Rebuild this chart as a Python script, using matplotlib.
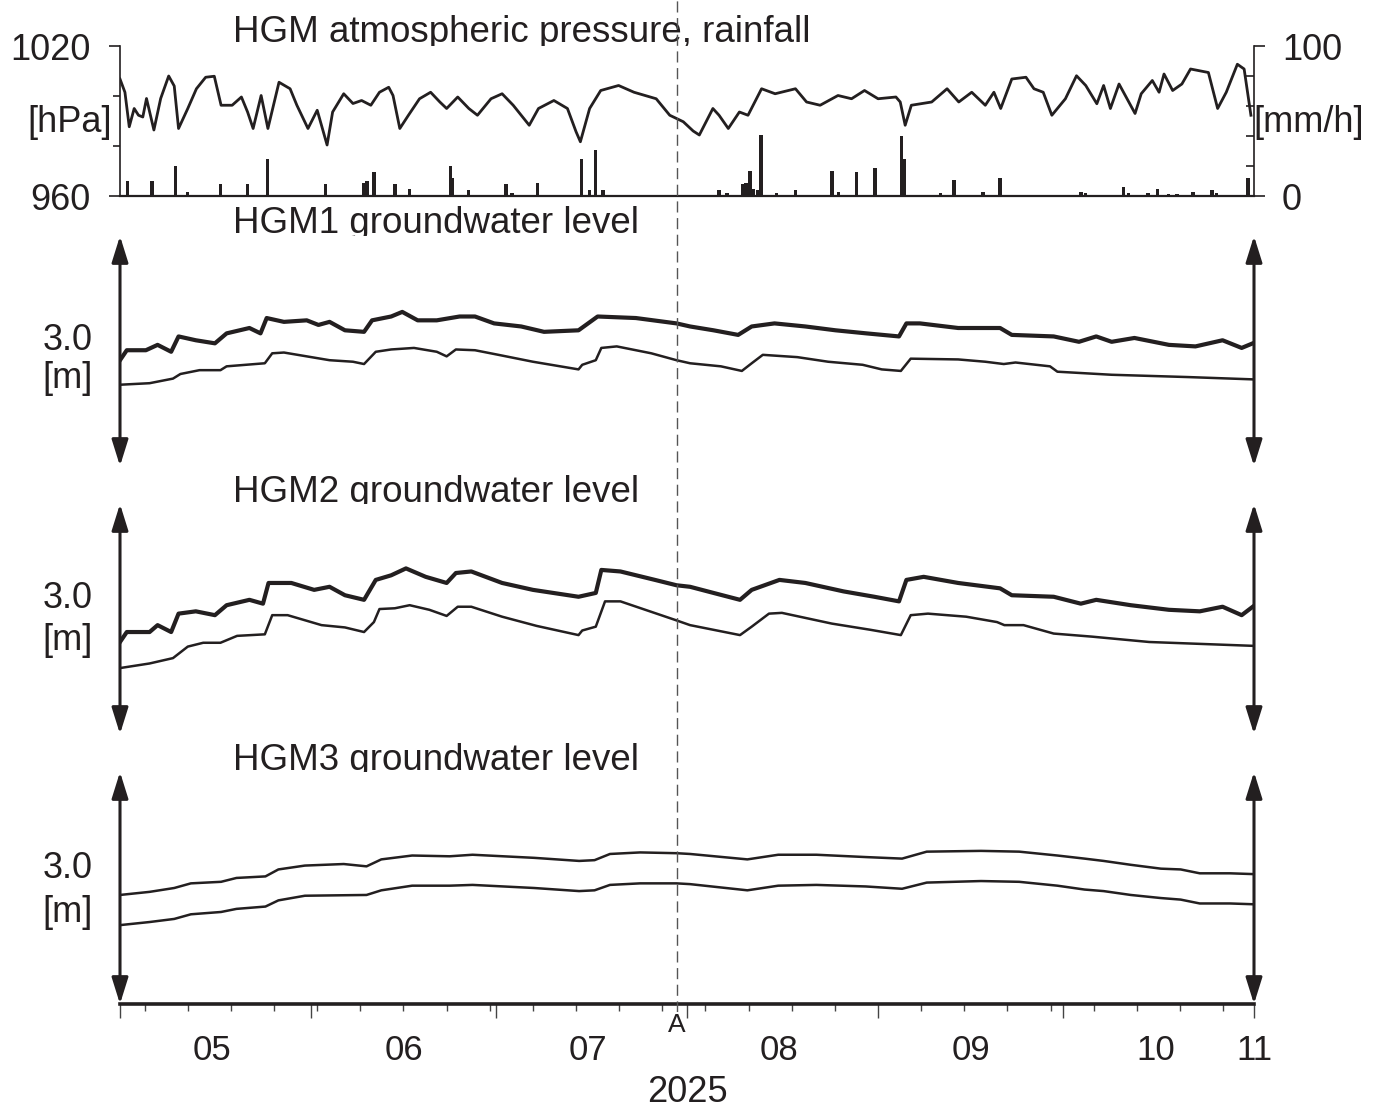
import numpy as np
import matplotlib
matplotlib.use("Agg")
import matplotlib.pyplot as plt
import matplotlib.dates as mdates
from matplotlib.patches import FancyArrowPatch
from matplotlib.ticker import NullFormatter

plt.rcParams['font.family'] = ['Liberation Sans', 'DejaVu Sans']

# all times are days counted from 2025-05-01 00:00
press_days = [0, 0.8, 1.5, 2.3, 3, 3.7, 4.3, 5.5, 6.6, 7.9, 8.8, 9.5, 11, 12.4, 13.9, 15.3, 16.4, 18.2, 19.7, 20.7,
              21.6, 22.9, 24, 25.8, 27.6, 28.7, 30.5, 32, 33.6, 34.5, 36.3, 37.8, 39.2, 40.7, 42.1, 43.6, 44.3, 45.4,
              46.8, 48.6, 50.4, 51.9, 53, 54.8, 56.6, 58, 60.2, 62, 63.8, 66.4, 67.9, 70.4, 72.6, 74, 74.7, 76.2, 78,
              80.9, 83.4, 87, 89.2, 91.4, 93, 94, 96.2, 97.2, 98.7, 100.5, 101.9, 104.1, 106.3, 109.6, 111.4, 113.6,
              116.5, 118.7, 120.8, 123, 125.9, 126.6, 127.4, 128.4, 131.7, 134.2, 136.1, 138.2, 140.4, 141.8, 142.9,
              144.7, 147, 148.3, 149.8, 151.2, 153.4, 155.2, 156.7, 158.5, 159.6, 160.7, 162.1, 164.7, 165.7, 167.5,
              168.6, 169.4, 170.8, 172.3, 173.7, 176.6, 178.1, 179.5, 181.3, 182.4, 183.5]
press_hpa = [1006.8, 1001.5, 987.7, 995, 992.3, 991.6, 999, 986.4, 999, 1008, 1004, 987, 995, 1002.9, 1007.5, 1007.9,
             996.3, 996.3, 999.6, 993.6, 987, 1000.2, 987, 1005.5, 1002.9, 996.3, 987, 994.3, 980.4, 993.6, 1000.9,
             997, 998.2, 996.3, 1001.5, 1003.5, 1000.2, 987, 992.3, 998.9, 1001.5, 997.6, 995, 999.6, 995, 992.3,
             998.9, 1000.9, 996.3, 988.3, 995, 998.2, 995, 985.7, 981.7, 995, 1002.2, 1004.2, 1001.5, 998.9, 992.3,
             989.7, 986, 984.4, 995, 992.3, 987, 993.6, 992.3, 1002.9, 1000.9, 1002.9, 997.6, 996.3, 1000.2, 998.9,
             1002.2, 998.9, 999.6, 997.6, 988.3, 996.3, 997.6, 1002.9, 997.6, 1001.5, 996.3, 1001.5, 995, 1006.8,
             1007.5, 1002.9, 1001.5, 992.3, 998.9, 1008.1, 1004.2, 996.9, 1004.2, 995, 1004.8, 993, 1000.9, 1006.2,
             1001.5, 1008.8, 1002.2, 1004.8, 1010.8, 1009.4, 995, 1001.5, 1012.7, 1010.8, 992.3]

rain_days = [1.2, 5.2, 9, 11, 16.3, 20.7, 23.9, 29, 33.3, 39.6, 40.1, 41.2, 44.6, 47, 53.6, 54, 56.5, 62.6, 63.6,
             67.7, 71.8, 74.9, 76.2, 77.2, 78.4, 80.5, 97.2, 98.5, 101.1, 101.6, 102.2, 102.7, 103.4, 104, 106.5,
             109.6, 115.5, 116.6, 119.5, 122.5, 126.8, 127.2, 133.1, 135.3, 140, 142.8, 150.5, 155.9, 156.7, 162.8,
             163.6, 166.8, 168.3, 170.1, 171.5, 174.1, 177.2, 177.9, 183]
rain_mm = [10, 10, 20, 3, 8, 8, 25, 1, 8, 9, 10, 16, 8, 5, 20, 12, 4, 8, 2, 9, 1, 25, 4, 31, 4, 0.5, 4, 2, 8, 9,
           17, 5, 4, 41, 2, 4, 17, 3, 16, 19, 40, 25, 2, 11, 3, 12, 1, 3, 2, 6, 2, 2, 5, 1.5, 1.5, 3, 4, 2, 12]

# groundwater levels [m], relative to the bottom of each panel
gw1_up_days = [0, 1.1, 4.2, 6.1, 8.3, 9.5, 12.3, 15.4, 17.3, 21, 22.8, 23.8, 26.6, 30.3, 32.2, 34, 36.5, 39.6, 40.9,
               44, 45.8, 48.3, 51.4, 55.1, 57.6, 60.7, 65.1, 68.8, 74.4, 77.5, 83.7, 90.3, 92.5, 96.3, 100.3, 102.5,
               106.2, 111.2, 116.1, 121.1, 126.4, 127.6, 129.8, 136, 142.8, 144.7, 151.5, 155.6, 158.4, 160.9, 164.6,
               170.2, 174.5, 178.9, 182, 183.8]
gw1_up = [1.38, 1.51, 1.51, 1.58, 1.49, 1.69, 1.64, 1.60, 1.73, 1.80, 1.73, 1.93, 1.88, 1.90, 1.84, 1.88, 1.77, 1.75,
          1.90, 1.95, 2.01, 1.90, 1.90, 1.95, 1.95, 1.86, 1.82, 1.75, 1.77, 1.95, 1.93, 1.86, 1.82, 1.77, 1.71, 1.82,
          1.86, 1.82, 1.77, 1.73, 1.69, 1.86, 1.86, 1.80, 1.80, 1.71, 1.69, 1.62, 1.69, 1.62, 1.67, 1.58, 1.56, 1.64,
          1.54, 1.60]
gw1_lo_days = [0, 4.8, 8.6, 9.8, 12.9, 16.3, 17.3, 23.5, 24.7, 26.6, 34, 37.8, 39.6, 41.5, 44, 47.7, 51.4, 53, 54.5,
               57.6, 61.4, 67, 74.4, 75, 77.2, 78.1, 80.6, 86.2, 90.3, 92.5, 97.5, 100.9, 102.5, 104.3, 109.9, 114.9,
               120.5, 123.6, 126.7, 128.3, 136, 140.4, 143.4, 145.3, 150.9, 152.1, 160.9, 173.3, 183.8]
gw1_lo = [1.06, 1.08, 1.14, 1.20, 1.25, 1.25, 1.30, 1.34, 1.47, 1.48, 1.38, 1.36, 1.33, 1.49, 1.52, 1.54, 1.49, 1.43,
          1.52, 1.51, 1.45, 1.36, 1.26, 1.32, 1.38, 1.54, 1.56, 1.47, 1.38, 1.34, 1.30, 1.24, 1.34, 1.45, 1.42, 1.36,
          1.32, 1.26, 1.24, 1.40, 1.39, 1.36, 1.33, 1.35, 1.30, 1.23, 1.19, 1.16, 1.13]

gw2_up_days = [0, 1.1, 4.8, 6.1, 8.3, 9.5, 12.3, 15.4, 17.3, 21, 23.2, 24.1, 27.8, 31.5, 34, 36.5, 39.6, 41.5, 44,
               46.4, 49.6, 53, 54.5, 57, 62, 67, 74.4, 77.2, 78.1, 81.2, 86.8, 90.3, 92.5, 96.3, 100.6, 102.5, 107,
               111.2, 117.4, 122.4, 126.4, 127.6, 130.4, 136, 142.8, 144.7, 151.5, 155.9, 158.4, 164, 170.2, 175.2,
               178.9, 182, 183.8]
gw2_up = [1.20, 1.33, 1.33, 1.42, 1.33, 1.57, 1.60, 1.55, 1.68, 1.75, 1.70, 1.97, 1.97, 1.88, 1.92, 1.81, 1.75, 2.01,
          2.07, 2.16, 2.05, 1.97, 2.10, 2.12, 1.97, 1.88, 1.79, 1.84, 2.14, 2.12, 2.01, 1.94, 1.92, 1.84, 1.75, 1.88,
          2.01, 1.97, 1.86, 1.79, 1.73, 2.01, 2.05, 1.97, 1.90, 1.81, 1.79, 1.70, 1.75, 1.68, 1.62, 1.60, 1.66, 1.55,
          1.66]
gw2_lo_days = [0, 4.8, 8.6, 11, 13.5, 16.3, 19, 23.5, 24.7, 27.2, 32.7, 36.5, 39.6, 41.2, 42.1, 44.6, 47, 50.2, 53,
               54.8, 57, 62, 67.6, 74.4, 75, 77.2, 78.7, 81.2, 90, 92.5, 100.6, 102.5, 105.3, 107.4, 115.5, 121.7,
               126.7, 128.3, 131.1, 137.3, 142.3, 143.5, 146.6, 151.5, 157.7, 167, 183.8]
gw2_lo = [0.86, 0.92, 0.99, 1.14, 1.19, 1.19, 1.28, 1.30, 1.55, 1.55, 1.42, 1.39, 1.33, 1.46, 1.63, 1.64, 1.68, 1.62,
          1.54, 1.66, 1.66, 1.53, 1.41, 1.29, 1.35, 1.40, 1.73, 1.73, 1.49, 1.42, 1.29, 1.40, 1.57, 1.58, 1.44, 1.36,
          1.29, 1.55, 1.57, 1.53, 1.46, 1.42, 1.42, 1.31, 1.27, 1.20, 1.15]

gw3_up_days = [0, 4.8, 8.8, 11.5, 16.4, 18.9, 23.6, 25.7, 30, 36.3, 40, 42.4, 47.4, 53.5, 57.2, 67.2, 74.5, 77, 79.5,
               84.4, 90.3, 92.5, 101.8, 106.8, 113, 121, 126.9, 130.9, 139.7, 145.9, 152.1, 156.5, 159.6, 164, 168.9,
               172.1, 175.2, 180.1, 183.8]
gw3_up = [1.41, 1.45, 1.50, 1.56, 1.58, 1.63, 1.65, 1.74, 1.79, 1.81, 1.78, 1.87, 1.92, 1.91, 1.93, 1.89, 1.85, 1.86,
          1.94, 1.96, 1.95, 1.94, 1.87, 1.93, 1.93, 1.90, 1.88, 1.97, 1.98, 1.97, 1.92, 1.88, 1.85, 1.80, 1.75, 1.74,
          1.69, 1.69, 1.68]
gw3_lo_days = [0, 4.8, 8.8, 11.5, 16.4, 18.9, 23.6, 25.7, 30, 40, 42.4, 47.4, 53.5, 57.2, 67.2, 74.5, 77, 79.5, 84.4,
               90.3, 92.5, 101.8, 106.8, 113, 121, 126.9, 130.9, 139.7, 145.9, 152.1, 156.5, 159.6, 164, 168.9, 172.1,
               175.2, 180.1, 183.8]
gw3_lo = [1.02, 1.06, 1.10, 1.16, 1.19, 1.23, 1.26, 1.34, 1.40, 1.41, 1.47, 1.53, 1.53, 1.54, 1.50, 1.46, 1.47, 1.54,
          1.56, 1.56, 1.55, 1.47, 1.53, 1.54, 1.52, 1.49, 1.57, 1.59, 1.58, 1.53, 1.48, 1.46, 1.41, 1.37, 1.35, 1.30,
          1.30, 1.29]

event_date = np.datetime64('2025-07-30T10:00')
month_labels = ['05', '06', '07', '08', '09', '10', '11']
month_label_dates = ['2025-05-16', '2025-06-16', '2025-07-16', '2025-08-16', '2025-09-16', '2025-10-16', '2025-11-01']

start = np.datetime64('2025-05-01T00:00')
end = np.datetime64('2025-11-01T00:00')
K = '#231f20'


def to_dates(days):
    return start + np.round(np.array(days) * 1440).astype('int64').astype('timedelta64[m]')


W, H = 1394, 1109
fig = plt.figure(figsize=(W / 100, H / 100), dpi=100)


def px_axes(top, bottom):
    return fig.add_axes([120 / W, 1 - bottom / H, (1254 - 120) / W, (bottom - top) / H])


def add_arrows(ax):
    for x in (0, 1):
        arr = FancyArrowPatch((x, 0), (x, 1), transform=ax.transAxes,
                              arrowstyle='<|-|>,head_length=16,head_width=5', mutation_scale=1,
                              lw=2.2, color=K, shrinkA=0, shrinkB=0, clip_on=False)
        ax.add_patch(arr)


# titles sit behind the panels, so the panels clip their bottoms
for txt, base in [('HGM atmospheric pressure, rainfall', 42), ('HGM1 groundwater level', 233),
                  ('HGM2 groundwater level', 502), ('HGM3 groundwater level', 770)]:
    fig.text(233 / W, 1 - base / H, txt, fontsize=26.5, color=K, va='baseline', ha='left', zorder=-1)

# top panel: pressure + rainfall
ax0 = px_axes(46, 196)
ax0.plot(to_dates(press_days), press_hpa, color=K, lw=2.0, solid_joinstyle='round')
ax0.set_xlim(start, end)
ax0.set_ylim(960, 1020)
ax0.set_yticks([960, 1020])
ax0.set_yticks([980, 1000], minor=True)
ax0.yaxis.set_minor_formatter(NullFormatter())
ax0.tick_params(axis='y', which='major', direction='out', length=8, width=1.2, labelsize=26, pad=13,
                color=K, labelcolor=K)
ax0.tick_params(axis='y', which='minor', direction='out', length=5, width=1.2, color=K)
ax0.tick_params(axis='x', which='both', bottom=False, labelbottom=False)
ax0.spines['top'].set_visible(False)
ax0.spines['right'].set_visible(False)
ax0.spines['left'].set_linewidth(1.2)
ax0.spines['bottom'].set_linewidth(1.6)
for s in ('left', 'bottom'):
    ax0.spines[s].set_color(K)

ax0r = ax0.twinx()
ax0r.bar(to_dates(rain_days), rain_mm, width=0.55, color=K, linewidth=0)
ax0r.set_xlim(start, end)
ax0r.set_ylim(0, 100)
ax0r.set_yticks([0, 100])
ax0r.set_yticks([20, 40, 60, 80], minor=True)
ax0r.yaxis.set_minor_formatter(NullFormatter())
ax0r.tick_params(axis='y', which='major', direction='out', length=8, width=1.2, labelsize=26, pad=12,
                 color=K, labelcolor=K)
ax0r.tick_params(axis='y', which='minor', direction='in', length=6, width=1.2, color=K)
ax0r.tick_params(axis='x', which='both', bottom=False, labelbottom=False)
for s in ('top', 'left', 'bottom'):
    ax0r.spines[s].set_visible(False)
ax0r.spines['right'].set_linewidth(1.2)
ax0r.spines['right'].set_color(K)

fig.text(112 / W, 1 - 122 / H, '[hPa]', fontsize=26, color=K, ha='right', va='center')
fig.text(1253 / W, 1 - 122 / H, '[mm/h]', fontsize=26, color=K, ha='left', va='center')

# groundwater panels
panels = [
    (236, 466, gw1_up_days, gw1_up, gw1_lo_days, gw1_lo, 340, 378),
    (504, 734, gw2_up_days, gw2_up, gw2_lo_days, gw2_lo, 598, 640),
    (772, 1004, gw3_up_days, gw3_up, gw3_lo_days, gw3_lo, 868, 912),
]
axes = []
for i, (top, bot, ud, uv, ld, lv, y30, ym) in enumerate(panels):
    ax = px_axes(top, bot)
    ax.set_facecolor('white')
    wiggly = i < 2
    ax.plot(to_dates(ud), uv, color=K, lw=3.0 if wiggly else 1.8, solid_joinstyle='round')
    ax.plot(to_dates(ld), lv, color=K, lw=1.8, solid_joinstyle='round')
    ax.set_xlim(start, end)
    ax.set_ylim(0, 3.0)
    ax.set_yticks([])
    for s in ('top', 'left', 'right', 'bottom'):
        ax.spines[s].set_visible(False)
    ax.tick_params(axis='x', which='both', bottom=False, labelbottom=False)
    add_arrows(ax)
    fig.text(93 / W, 1 - y30 / H, '3.0', fontsize=26, color=K, ha='right', va='center')
    fig.text(93 / W, 1 - ym / H, '[m]', fontsize=26, color=K, ha='right', va='center')
    axes.append(ax)

ax3 = axes[2]
ax3.spines['bottom'].set_visible(True)
ax3.spines['bottom'].set_linewidth(2.6)
ax3.spines['bottom'].set_color(K)
ax3.xaxis.set_major_locator(mdates.MonthLocator())
ax3.xaxis.set_minor_locator(mdates.WeekdayLocator(byweekday=mdates.MO))
ax3.xaxis.set_major_formatter(NullFormatter())
ax3.xaxis.set_minor_formatter(NullFormatter())
ax3.tick_params(axis='x', which='major', bottom=True, direction='out', length=10, width=1.0, color='#444444')
ax3.tick_params(axis='x', which='minor', bottom=True, direction='out', length=5, width=1.0, color='#444444')
ax3.set_xlim(start, end)

xt = ax3.get_xaxis_transform()
for lbl, d in zip(month_labels, month_label_dates):
    ax3.text(mdates.date2num(np.datetime64(d)), -0.2, lbl, transform=xt, fontsize=25, color=K,
             ha='center', va='center')
ax3.text(0.5, -0.38, '2025', transform=ax3.transAxes, fontsize=26, color=K, ha='center', va='center')

# event line across all panels
axo = fig.add_axes([120 / W, 1 - 1012 / H, (1254 - 120) / W, 1012 / H])
axo.set_xlim(start, end)
axo.set_ylim(0, 1)
axo.axis('off')
axo.axvline(mdates.date2num(event_date), color='#555555', lw=1.0, ls=(0, (8, 4)))
axo.text(mdates.date2num(event_date), -0.001, 'A', fontsize=19, color=K, ha='center', va='top',
         transform=axo.get_xaxis_transform())

fig.savefig('out.png', dpi=100)
